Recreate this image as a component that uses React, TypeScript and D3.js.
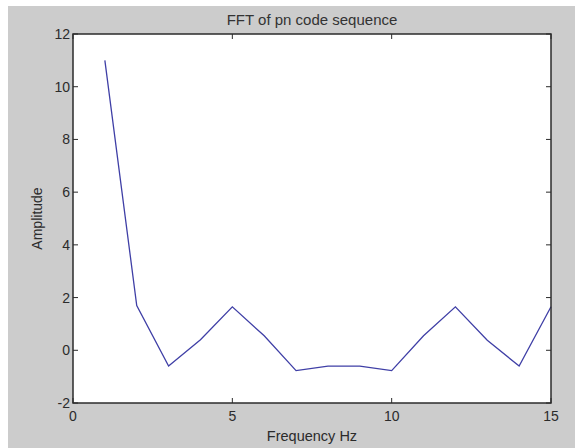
import { useEffect, useRef } from 'react'
import * as d3 from 'd3'

// values
const freq = [1, 2, 3, 4, 5, 6, 7, 8, 9, 10, 11, 12, 13, 14, 15]
const amplitude = [11, 1.7, -0.6, 0.4, 1.65, 0.55, -0.77, -0.6, -0.6, -0.77, 0.55, 1.65, 0.38, -0.6, 1.65]
const xTicks = [0, 5, 10, 15]
const yTicks = [-2, 0, 2, 4, 6, 8, 10, 12]

const W = 575
const H = 448

export default function App() {
  const svgRef = useRef<SVGSVGElement>(null)

  useEffect(() => {
    if (!svgRef.current) return
    const svg = d3.select(svgRef.current)
    svg.selectAll('*').remove()

    const box = { left: 73, right: 551, top: 34, bottom: 403 }
    const font = 'Liberation Sans, Arial, sans-serif'
    const ink = '#2b2b2b'

    // figure background
    svg.append('rect')
      .attr('x', 8).attr('y', 6).attr('width', W - 8).attr('height', H - 6)
      .attr('fill', '#cccccc')

    const x = d3.scaleLinear().domain([0, 15]).range([box.left, box.right])
    const y = d3.scaleLinear().domain([-2, 12]).range([box.bottom, box.top])

    svg.append('rect')
      .attr('x', box.left).attr('y', box.top)
      .attr('width', box.right - box.left).attr('height', box.bottom - box.top)
      .attr('fill', '#ffffff')

    // data line
    svg.append('path')
      .datum(freq.map((f, i) => [f, amplitude[i]] as [number, number]))
      .attr('fill', 'none')
      .attr('stroke', '#3f3fa6')
      .attr('stroke-width', 1.3)
      .attr('d', d3.line<[number, number]>().x(d => x(d[0])).y(d => y(d[1])))

    // inward ticks on all sides (MATLAB style)
    const tl = 5
    const tickG = svg.append('g').attr('stroke', ink).attr('stroke-width', 1)
    xTicks.forEach(t => {
      tickG.append('line').attr('x1', x(t)).attr('x2', x(t)).attr('y1', box.bottom).attr('y2', box.bottom - tl)
      tickG.append('line').attr('x1', x(t)).attr('x2', x(t)).attr('y1', box.top).attr('y2', box.top + tl)
    })
    yTicks.forEach(t => {
      tickG.append('line').attr('x1', box.left).attr('x2', box.left + tl).attr('y1', y(t)).attr('y2', y(t))
      tickG.append('line').attr('x1', box.right).attr('x2', box.right - tl).attr('y1', y(t)).attr('y2', y(t))
    })

    svg.append('rect')
      .attr('x', box.left).attr('y', box.top)
      .attr('width', box.right - box.left).attr('height', box.bottom - box.top)
      .attr('fill', 'none').attr('stroke', ink).attr('stroke-width', 1.5)

    // tick labels
    svg.append('g').selectAll('text').data(xTicks).join('text')
      .attr('x', d => x(d)).attr('y', box.bottom + 18)
      .attr('text-anchor', 'middle')
      .attr('font-family', font).attr('font-size', 14).attr('fill', ink)
      .text(d => d)

    svg.append('g').selectAll('text').data(yTicks).join('text')
      .attr('x', box.left - 3).attr('y', d => y(d) + 5)
      .attr('text-anchor', 'end')
      .attr('font-family', font).attr('font-size', 14).attr('fill', ink)
      .text(d => d)

    // title and axis labels
    svg.append('text')
      .attr('x', (box.left + box.right) / 2).attr('y', 25)
      .attr('text-anchor', 'middle')
      .attr('font-family', font).attr('font-size', 15).attr('fill', '#333')
      .text('FFT of pn code sequence')

    svg.append('text')
      .attr('x', (box.left + box.right) / 2).attr('y', 441)
      .attr('text-anchor', 'middle')
      .attr('font-family', font).attr('font-size', 14.5).attr('fill', ink)
      .text('Frequency Hz')

    svg.append('text')
      .attr('transform', `translate(42,${(box.top + box.bottom) / 2}) rotate(-90)`)
      .attr('text-anchor', 'middle')
      .attr('font-family', font).attr('font-size', 14).attr('fill', ink)
      .text('Amplitude')
  }, [])

  return (
    <svg
      ref={svgRef}
      width={W}
      height={H}
      style={{ position: 'absolute', left: 0, top: 0, display: 'block' }}
    />
  )
}
